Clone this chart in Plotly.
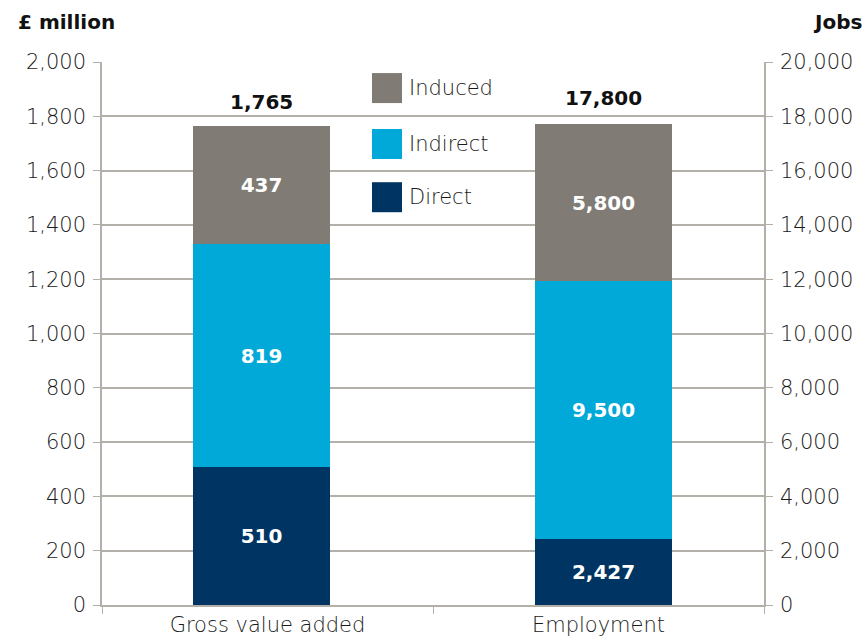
import plotly.graph_objects as go

# ---- data ----
categories = ["Gross value added", "Employment"]
series_names = ["Direct", "Indirect", "Induced"]
gva_values = [510, 819, 437]          # £ million
jobs_values = [2427, 9500, 5800]      # jobs
totals = [1765, 17800]
total_labels = ["1,765", "17,800"]
left_ticks = list(range(0, 2001, 200))
right_ticks = list(range(0, 20001, 2000))

colors = {"Direct": "#003462", "Indirect": "#00a9d7", "Induced": "#807c75"}
grid_col = "#b3afa9"
FONT = "DejaVu Sans"

bar_width = 0.414
bar_offsets = [-0.225, -0.192]

seg_font = dict(color="white", size=20, family=FONT, weight=600)

fig = go.Figure()
for i, name in enumerate(series_names):
    fig.add_trace(go.Bar(
        x=[categories[0]], y=[gva_values[i]], name=name,
        marker=dict(color=colors[name], line=dict(width=0)),
        width=bar_width, offset=bar_offsets[0],
        texttemplate="%{y:,.0f}",
        textposition="inside", insidetextanchor="middle",
        textfont=seg_font, showlegend=False, yaxis="y", hoverinfo="skip"))
    fig.add_trace(go.Bar(
        x=[categories[1]], y=[jobs_values[i]], name=name,
        marker=dict(color=colors[name], line=dict(width=0)),
        width=bar_width, offset=bar_offsets[1],
        texttemplate="%{y:,.0f}",
        textposition="inside", insidetextanchor="middle",
        textfont=seg_font, showlegend=False, yaxis="y2", hoverinfo="skip"))

annotations = []
for j, cat in enumerate(categories):
    annotations.append(dict(
        x=j + bar_offsets[j] + bar_width / 2, y=totals[j], xref="x",
        yref="y" if j == 0 else "y2", text="<b>%s</b>" % total_labels[j],
        showarrow=False, yanchor="bottom", yshift=10,
        font=dict(size=20, color="#111111", family=FONT)))

# axis titles
annotations.append(dict(x=(16 - 102) / 662, y=1 + (62 - 22) / 543, xref="paper", yref="paper",
                        text="<b>£ million</b>", showarrow=False, xanchor="left", yanchor="middle",
                        font=dict(size=20, color="#111111", family=FONT)))
annotations.append(dict(x=1 + (864 - 764) / 662, y=1 + (62 - 22) / 543, xref="paper", yref="paper",
                        text="<b>Jobs</b>", showarrow=False, xanchor="right", yanchor="middle",
                        font=dict(size=20, color="#111111", family=FONT)))

# custom legend (large swatches)
shapes = []
legend_order = ["Induced", "Indirect", "Direct"]
legend_y = [0.952, 0.849, 0.751]
sw_h = 30 / 543
for name, yc in zip(legend_order, legend_y):
    shapes.append(dict(type="rect", xref="paper", yref="paper",
                       x0=(372 - 102) / 662, x1=(402 - 102) / 662,
                       y0=yc - sw_h / 2, y1=yc + sw_h / 2,
                       fillcolor=colors[name], line=dict(width=0)))
    annotations.append(dict(x=(407 - 102) / 662, y=yc, xref="paper", yref="paper",
                            text=name, showarrow=False, xanchor="left", yanchor="middle",
                            font=dict(size=21, color="#1a1a1a", family=FONT, weight=300)))

tickfont = dict(size=21, color="#1a1a1a", family=FONT, weight=300)
fig.update_layout(
    width=868, height=638,
    margin=dict(l=102, r=104, t=62, b=33),
    plot_bgcolor="white", paper_bgcolor="white",
    barmode="stack", bargap=0,
    xaxis=dict(type="category", categoryorder="array", categoryarray=categories,
               range=[-0.5, 1.5], tickson="boundaries", ticks="outside", ticklen=7,
               tickcolor=grid_col, showgrid=False, showline=True, linecolor=grid_col,
               linewidth=1.5, tickfont=tickfont, zeroline=False, automargin=False),
    yaxis=dict(range=[0, 2000], tickvals=left_ticks, tickformat=",", ticks="outside",
               ticklen=7, tickcolor=grid_col, showgrid=True, gridcolor=grid_col, gridwidth=1.5,
               showline=True, linecolor=grid_col, linewidth=1.5, tickfont=tickfont,
               zeroline=False, ticklabelstandoff=3, automargin=False),
    yaxis2=dict(range=[0, 20000], tickvals=right_ticks, tickformat=",", overlaying="y",
                side="right", ticks="outside", ticklen=7, tickcolor=grid_col, showgrid=False,
                showline=True, linecolor=grid_col, linewidth=1.5, tickfont=tickfont,
                zeroline=False, ticklabelstandoff=3, automargin=False),
    annotations=annotations, shapes=shapes,
)

fig.write_html("out.html", config={"displayModeBar": False},
               post_script="document.body.style.margin='0';document.body.style.padding='0';")
